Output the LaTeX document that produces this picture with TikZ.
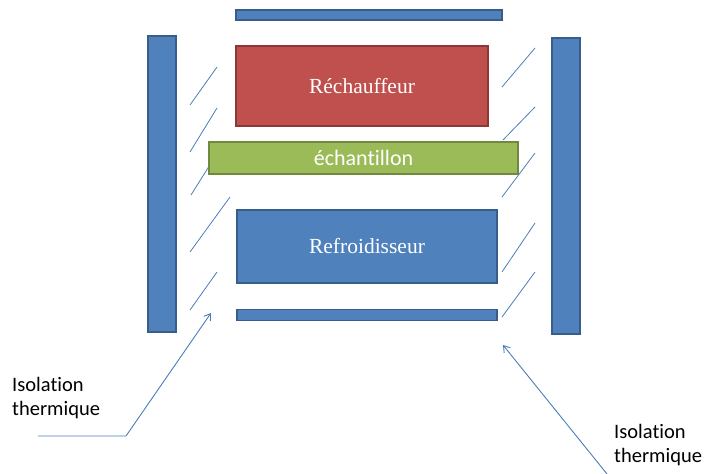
\documentclass[tikz,border=0pt]{standalone}
\usepackage{fontspec}
\setmainfont{Liberation Serif}
\newfontfamily\calib[Ligatures=NoCommon]{Carlito}
\usetikzlibrary{arrows.meta}
\definecolor{bluefill}{HTML}{4F81BD}
\definecolor{blueline}{HTML}{385D8A}
\definecolor{redfill}{HTML}{C0504D}
\definecolor{redline}{HTML}{8C3836}
\definecolor{greenfill}{HTML}{9BBB59}
\definecolor{greenline}{HTML}{71893F}
\definecolor{hatch}{HTML}{4A7EBB}
\tikzset{
  block/.style={draw=#1line, fill=#1fill, line width=1.5pt, inner sep=0pt, text=white},
  hatchline/.style={draw=hatch, line width=0.8pt},
  callout/.style={draw=hatch, line width=0.9pt, -{Straight Barb[length=6pt,width=8pt]}},
  lbl/.style={font=\calib\fontsize{20.5}{24}\selectfont, align=left, inner sep=0pt, anchor=north west}
}
\begin{document}
\begin{tikzpicture}[x=1pt,y=-1pt]
\useasboundingbox (0,0) rectangle (710,474);
% hatch lines (insulation)
\draw[hatchline] (190,105) -- (217,67);
\draw[hatchline] (190,152) -- (217,108);
\draw[hatchline] (191,195) -- (218,152);
\draw[hatchline] (190,252) -- (230,197);
\draw[hatchline] (190,310) -- (217,272);
\draw[hatchline] (502,87) -- (535,48);
\draw[hatchline] (503,140) -- (535,107);
\draw[hatchline] (502,197) -- (535,153);
\draw[hatchline] (502,272) -- (535,223);
\draw[hatchline] (502,317) -- (535,272);
% boxes
\node[block=blue, minimum width=266pt, minimum height=10pt] (topbar) at (369,15) {};
\node[block=blue, minimum width=28pt, minimum height=296pt] (leftbar) at (162,184) {};
\node[block=blue, minimum width=28pt, minimum height=296pt] (rightbar) at (566,186) {};
\node[block=red, minimum width=252pt, minimum height=80pt, font=\fontsize{21.5}{24}\selectfont] (heater) at (362,86) {Réchauffeur};
\node[block=green, minimum width=309pt, minimum height=32pt, font=\calib\fontsize{22}{24}\selectfont] (sample) at (363.5,158) {échantillon};
\node[block=blue, minimum width=260pt, minimum height=73pt, font=\fontsize{21.5}{24}\selectfont] (cooler) at (367,246.5) {Refroidisseur};
\node[block=blue, minimum width=260pt, minimum height=11pt] (botbar) at (367,315) {};
% labels and callouts
\node[lbl] (lab1) at (12,377) {Isolation\\thermique};
\node[lbl] (lab2) at (614,424) {Isolation\\thermique};
\coordinate (c1a) at (38,436);
\coordinate (c1b) at (126,436);
\coordinate (t1) at (211,313);
\coordinate (c2a) at (607,474);
\coordinate (t2) at (503,345);
\draw[callout] (c1a) -- (c1b) -- (t1);
\draw[callout] (c2a) -- (t2);
\end{tikzpicture}
\end{document}
